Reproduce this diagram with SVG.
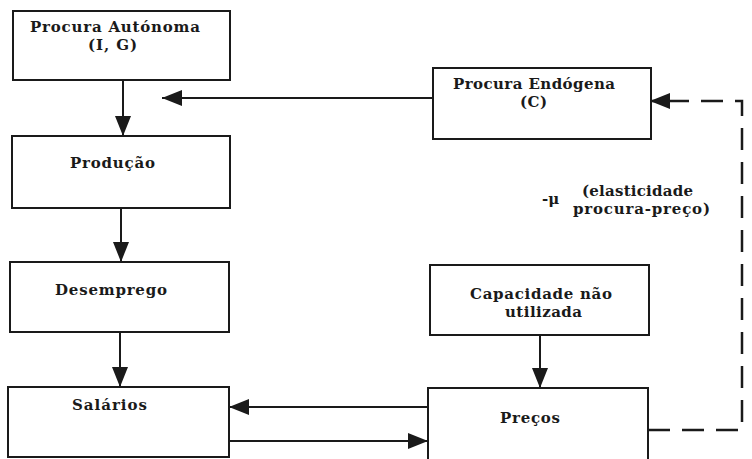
<svg xmlns="http://www.w3.org/2000/svg" width="752" height="459" viewBox="0 0 752 459">
<style>
.box{fill:#fff;stroke:#1a1a1a;stroke-width:2}
.t{font-family:"DejaVu Serif","Liberation Serif",serif;font-size:15px;font-weight:bold;fill:#1a1a1a}
.c{fill:none;stroke:#1a1a1a;stroke-width:2}
.d{fill:none;stroke:#1a1a1a;stroke-width:2.5;stroke-dasharray:22 12}
</style>
<defs>
<marker id="ah" viewBox="0 0 20 16" markerWidth="20" markerHeight="16" refX="20" refY="8" orient="auto" markerUnits="userSpaceOnUse">
<path d="M0,0 L20,8 L0,16 Z" fill="#1a1a1a"/>
</marker>
</defs>
<rect width="752" height="459" fill="#fff"/>
<g id="connectors">
<path class="c" d="M123,80 V136" marker-end="url(#ah)"/>
<path class="c" d="M121,208 V262" marker-end="url(#ah)"/>
<path class="c" d="M120,332 V387" marker-end="url(#ah)"/>
<path class="c" d="M540,335 V388" marker-end="url(#ah)"/>
<path class="c" d="M433,98 H162" marker-end="url(#ah)"/>
<path class="c" d="M428,407 H229" marker-end="url(#ah)"/>
<path class="c" d="M229,441 H428" marker-end="url(#ah)"/>
<path class="d" d="M648,430 H742 V101 H650" marker-end="url(#ah)"/>
</g>
<g id="procura-autonoma">
<rect class="box" x="13" y="11" width="217" height="69"/>
<text class="t" x="30" y="32" textLength="170">Procura Autónoma</text>
<text class="t" x="88" y="50" textLength="49">(I, G)</text>
</g>
<g id="producao">
<rect class="box" x="12" y="136" width="218" height="72"/>
<text class="t" x="70" y="168" textLength="85">Produção</text>
</g>
<g id="desemprego">
<rect class="box" x="10" y="262" width="219" height="70"/>
<text class="t" x="55" y="295" textLength="112">Desemprego</text>
</g>
<g id="salarios">
<rect class="box" x="8" y="387" width="221" height="70"/>
<text class="t" x="72" y="410" textLength="75">Salários</text>
</g>
<g id="procura-endogena">
<rect class="box" x="433" y="68" width="218" height="71"/>
<text class="t" x="453" y="89" textLength="162">Procura Endógena</text>
<text class="t" x="520" y="107" textLength="27">(C)</text>
</g>
<g id="capacidade">
<rect class="box" x="430" y="265" width="219" height="70"/>
<text class="t" x="470" y="299" textLength="142">Capacidade não</text>
<text class="t" x="505" y="317" textLength="77">utilizada</text>
</g>
<g id="precos">
<rect class="box" x="428" y="388" width="220" height="90"/>
<text class="t" x="500" y="423" textLength="60">Preços</text>
</g>
<g id="elasticidade-label">
<text class="t" x="542" y="204">-μ</text>
<text class="t" x="582" y="196" textLength="111">(elasticidade</text>
<text class="t" x="573" y="214" textLength="137">procura-preço)</text>
</g>
</svg>
